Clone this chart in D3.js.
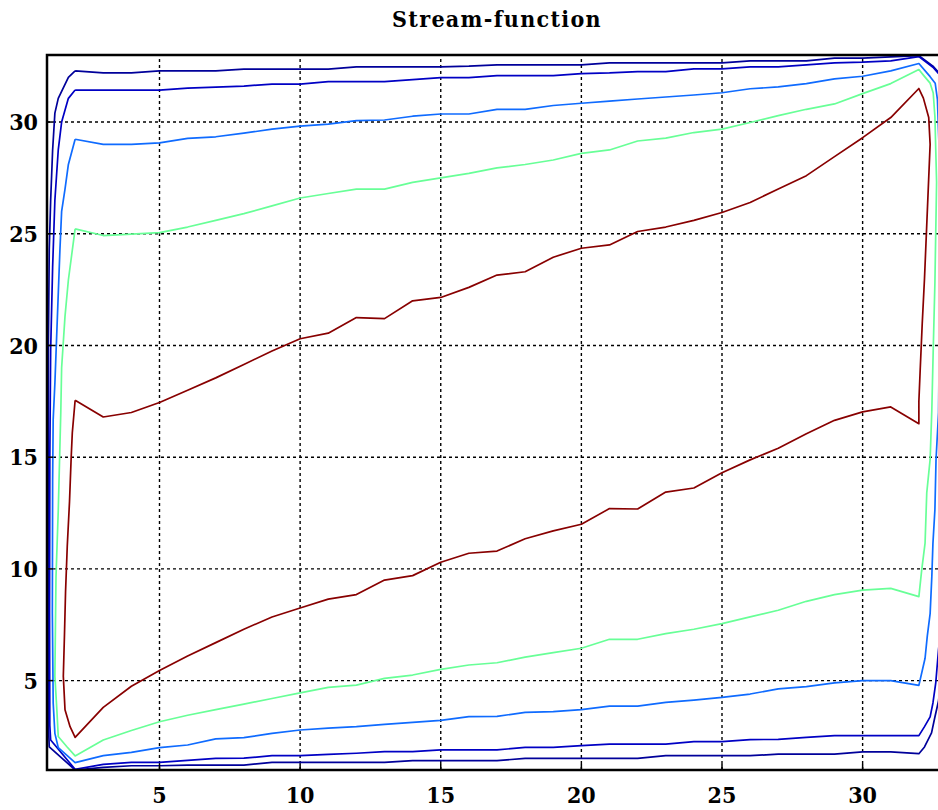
<!DOCTYPE html>
<html>
  <head>
    <title>Stream-function</title>
    <meta charset="utf-8" />
    <style>
      body { margin: 0; background: #fff; }
    </style>
  </head>
  <body>
    <div id="chart"></div>
    <script src="https://d3js.org/d3.v7.min.js"></script>
    <script type="text/javascript">
        // grid columns where the contours cross
        const gridX = [2,3,4,5,6,7,8,9,10,11,12,13,14,15,16,17,18,19,20,21,22,23,24,25,26,27,28,29,30,31,32];
        const xTicks = [5, 10, 15, 20, 25, 30];
        const yTicks = [5, 10, 15, 20, 25, 30];

        // outermost level (dark navy)
        const navyOuterTop = [32.29,32.20,32.20,32.29,32.29,32.29,32.37,32.37,32.37,32.37,32.47,32.47,32.47,32.47,32.50,32.56,32.56,32.56,32.56,32.65,32.65,32.65,32.65,32.65,32.74,32.74,32.74,32.86,32.86,32.92,32.97];
        const navyOuterBottom = [1.00,1.12,1.19,1.19,1.22,1.22,1.22,1.34,1.34,1.34,1.34,1.34,1.42,1.42,1.42,1.42,1.52,1.52,1.52,1.52,1.52,1.64,1.64,1.64,1.64,1.71,1.71,1.71,1.81,1.81,1.73];
        const navyOuterRight = [[32.5,32.5],[32.75,32.15],[32.95,31.0],[33.0,20],[32.95,7],[32.7,4.1],[32.57,3.37],[32.45,2.66],[32.2,2.03]];
        const navyOuterLeft = [[1.08,2.04],[1.05,3],[1.04,10],[1.05,20],[1.08,24.3],[1.13,26.5],[1.2,28.75],[1.28,30.4],[1.4,31.06],[1.76,32.0]];

        // second level (navy)
        const navyTop = [31.43,31.43,31.43,31.43,31.52,31.56,31.61,31.70,31.70,31.81,31.81,31.81,31.90,31.99,31.99,32.08,32.08,32.08,32.17,32.20,32.26,32.26,32.38,32.38,32.47,32.47,32.56,32.65,32.68,32.74,32.93];
        const navyBottom = [1.03,1.25,1.34,1.34,1.43,1.52,1.53,1.64,1.64,1.70,1.75,1.82,1.82,1.90,1.90,1.90,2.01,2.01,2.09,2.16,2.16,2.16,2.27,2.27,2.36,2.37,2.46,2.54,2.54,2.54,2.54];
        const navyRight = [[32.5,32.45],[32.75,32.1],[32.88,31.0],[32.9,20],[32.85,8],[32.7,6.4],[32.6,4.9],[32.5,4.0],[32.4,3.38],[32.2,2.94]];
        const navyLeft = [[1.13,2.34],[1.1,3],[1.09,8],[1.1,15],[1.13,19.8],[1.2,23.5],[1.28,26.5],[1.4,28.75],[1.52,30.0],[1.76,31.06]];

        // third level (blue)
        const blueTop = [29.23,29.00,29.00,29.07,29.27,29.34,29.50,29.68,29.82,29.91,30.06,30.09,30.26,30.36,30.36,30.57,30.57,30.74,30.84,30.94,31.03,31.12,31.21,31.31,31.49,31.57,31.72,31.93,32.05,32.29,32.62];
        const blueBottom = [1.33,1.64,1.79,2.00,2.12,2.39,2.45,2.64,2.79,2.87,2.94,3.04,3.13,3.22,3.39,3.40,3.58,3.61,3.70,3.86,3.86,4.03,4.13,4.25,4.40,4.63,4.73,4.90,5.00,5.00,4.79];
        const blueRight = [[32.4,32.03],[32.58,31.74],[32.66,31.0],[32.72,28.8],[32.74,22],[32.7,17],[32.61,14.9],[32.57,12.65],[32.5,11.15],[32.46,9.65],[32.4,8.0],[32.3,7.0],[32.22,6.0]];
        const blueLeft = [[1.4,2.0],[1.28,2.64],[1.22,4],[1.19,8],[1.2,14],[1.22,16.7],[1.28,18.3],[1.37,21.3],[1.46,24.3],[1.52,26.0],[1.64,27.0],[1.76,28.1]];

        // fourth level (green)
        const greenTop = [25.22,24.92,24.98,25.05,25.30,25.60,25.90,26.25,26.60,26.80,27.00,27.00,27.30,27.50,27.70,27.95,28.10,28.30,28.60,28.75,29.15,29.28,29.53,29.68,29.98,30.29,30.57,30.81,31.27,31.72,32.35];
        const greenBottom = [1.63,2.34,2.77,3.16,3.45,3.70,3.95,4.20,4.45,4.70,4.80,5.10,5.25,5.50,5.70,5.80,6.05,6.25,6.45,6.85,6.85,7.10,7.30,7.55,7.85,8.15,8.55,8.85,9.05,9.13,8.76];
        const greenRight = [[32.16,32.1],[32.4,31.74],[32.51,31.3],[32.57,30.25],[32.63,27.3],[32.57,22.8],[32.51,19.8],[32.46,17.1],[32.4,14.9],[32.28,13.4],[32.22,11.15],[32.1,9.95]];
        const greenLeft = [[1.7,2.05],[1.4,2.5],[1.35,3.7],[1.28,5.2],[1.32,9.65],[1.4,12.6],[1.49,17.0],[1.52,19.0],[1.64,21.3],[1.76,22.93]];

        // innermost level (dark red)
        const redTop = [17.55,16.80,17.00,17.45,18.00,18.55,19.15,19.75,20.30,20.55,21.25,21.20,22.00,22.15,22.60,23.15,23.30,23.95,24.35,24.50,25.10,25.30,25.60,25.95,26.40,27.00,27.60,28.45,29.30,30.20,31.50];
        const redBottom = [2.46,3.80,4.75,5.45,6.10,6.70,7.30,7.85,8.25,8.65,8.85,9.50,9.70,10.30,10.70,10.80,11.35,11.70,12.00,12.70,12.68,13.44,13.62,14.30,14.88,15.40,16.05,16.65,17.03,17.25,16.50];
        const redRight = [[32.16,31.07],[32.35,30.2],[32.4,29.0],[32.3,26.0],[32.2,23.0],[32.12,21.0],[32.05,19.0],[32.0,17.5]];
        const redLeft = [[1.82,2.94],[1.64,3.7],[1.58,5.2],[1.62,7],[1.66,9],[1.72,11],[1.8,13],[1.86,15],[1.9,16.1]];

        const levels = [
            {top: navyOuterTop, bottom: navyOuterBottom, right: navyOuterRight, left: navyOuterLeft, color: "#00009a"},
            {top: navyTop, bottom: navyBottom, right: navyRight, left: navyLeft, color: "#0000c4"},
            {top: blueTop, bottom: blueBottom, right: blueRight, left: blueLeft, color: "#0f6bff"},
            {top: greenTop, bottom: greenBottom, right: greenRight, left: greenLeft, color: "#68ff97"},
            {top: redTop, bottom: redBottom, right: redRight, left: redLeft, color: "#880000"}
        ];

        const width = 938;
        const height = 810;
        const margin = ({top: 55, left: 47});
        const plotW = 900;
        const plotH = 715;
        const serif = "'DejaVu Serif Condensed', 'DejaVu Serif', serif";

        const x = d3.scaleLinear()
            .domain([1, 33])
            .range([margin.left, margin.left + plotW]);
        const y = d3.scaleLinear()
            .domain([1, 33])
            .range([margin.top + plotH, margin.top]);

        // closed contour: top edge, right side down, bottom edge back, left side up
        function ring(c) {
            const top = gridX.map((gx, i) => [gx, c.top[i]]);
            const bottom = gridX.map((gx, i) => [gx, c.bottom[i]]).reverse();
            return top.concat(c.right, bottom, c.left, [top[0]]);
        }

        function chart() {
            const svg = d3.select("#chart")
                .append("svg")
                .attr("width", width)
                .attr("height", height);

            svg.append("defs").append("clipPath")
                .attr("id", "plot-clip")
                .append("rect")
                .attr("x", margin.left)
                .attr("y", margin.top)
                .attr("width", plotW)
                .attr("height", plotH);

            // dotted grid
            const grid = svg.append("g")
                .attr("stroke", "#000")
                .attr("stroke-width", 1.4)
                .attr("stroke-dasharray", "3,3");
            grid.selectAll("line.gx")
                .data(xTicks)
                .enter().append("line")
                .attr("class", "gx")
                .attr("x1", d => x(d)).attr("x2", d => x(d))
                .attr("y1", y(1)).attr("y2", y(33));
            grid.selectAll("line.gy")
                .data(yTicks)
                .enter().append("line")
                .attr("class", "gy")
                .attr("y1", d => y(d)).attr("y2", d => y(d))
                .attr("x1", x(1)).attr("x2", x(33));

            const line = d3.line()
                .x(d => x(d[0]))
                .y(d => y(d[1]));

            svg.append("g")
                .attr("clip-path", "url(#plot-clip)")
                .attr("fill", "none")
                .attr("stroke-width", 1.7)
                .attr("stroke-linejoin", "round")
                .selectAll("path")
                .data(levels)
                .enter().append("path")
                .attr("stroke", d => d.color)
                .attr("d", d => line(ring(d)));

            // small inward ticks
            const ticks = svg.append("g")
                .attr("stroke", "#000")
                .attr("stroke-width", 1.5);
            ticks.selectAll("line.tx")
                .data(xTicks)
                .enter().append("line")
                .attr("x1", d => x(d)).attr("x2", d => x(d))
                .attr("y1", y(1)).attr("y2", y(1) - 6);
            ticks.selectAll("line.ty")
                .data(yTicks)
                .enter().append("line")
                .attr("y1", d => y(d)).attr("y2", d => y(d))
                .attr("x1", x(1)).attr("x2", x(1) + 6);

            svg.append("rect")
                .attr("x", x(1))
                .attr("y", y(33))
                .attr("width", x(33) - x(1))
                .attr("height", y(1) - y(33))
                .attr("fill", "none")
                .attr("stroke", "#000")
                .attr("stroke-width", 2.5);

            const labels = svg.append("g")
                .attr("font-family", serif)
                .attr("font-stretch", "condensed")
                .attr("font-weight", "bold")
                .attr("font-size", 23)
                .attr("fill", "#000");
            labels.selectAll("text.xl")
                .data(xTicks)
                .enter().append("text")
                .attr("x", d => x(d))
                .attr("y", y(1) + 33)
                .attr("text-anchor", "middle")
                .text(d => d);
            labels.selectAll("text.yl")
                .data(yTicks)
                .enter().append("text")
                .attr("x", x(1) - 9)
                .attr("y", d => y(d))
                .attr("dy", "0.36em")
                .attr("text-anchor", "end")
                .text(d => d);

            svg.append("text")
                .attr("x", (x(1) + x(33)) / 2)
                .attr("y", 27)
                .attr("text-anchor", "middle")
                .attr("font-family", serif)
                .attr("font-stretch", "condensed")
                .attr("font-weight", "bold")
                .attr("font-size", 23)
                .attr("letter-spacing", 1.3)
                .text("Stream-function");

            return svg.node();
        }

        chart();
    </script>
  </body>
</html>
